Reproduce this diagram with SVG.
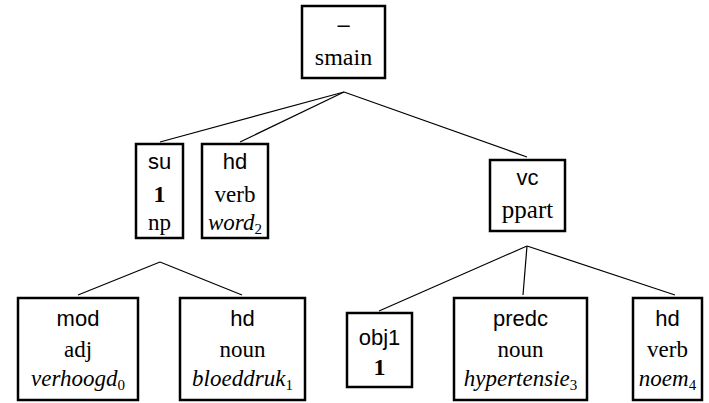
<svg xmlns="http://www.w3.org/2000/svg" width="709" height="403" viewBox="0 0 709 403">
  <style>
    .box { fill: #fff; stroke: #000; stroke-width: 2.5; }
    .edge { stroke: #000; stroke-width: 1.2; fill: none; }
    text { text-anchor: middle; fill: #000; }
    .lbl { font-family: "Liberation Sans", Arial, sans-serif; font-size: 22px; }
    .cat { font-family: "Liberation Serif", "Times New Roman", serif; font-size: 23px; }
    .top { font-family: "Liberation Serif", "Times New Roman", serif; font-size: 24px; }
    .idx { font-family: "Liberation Serif", "Times New Roman", serif; font-size: 24px; font-weight: bold; }
    .word { font-family: "Liberation Serif", "Times New Roman", serif; font-size: 23px; font-style: italic; }
    .sub { font-style: normal; font-size: 15px; }
  </style>

  <g id="connectors">
    <line class="edge" x1="344" y1="92" x2="160" y2="142"/>
    <line class="edge" x1="344" y1="92" x2="240" y2="142"/>
    <line class="edge" x1="344" y1="92" x2="527" y2="157"/>
    <line class="edge" x1="160" y1="262" x2="78" y2="295"/>
    <line class="edge" x1="160" y1="262" x2="242" y2="295"/>
    <line class="edge" x1="527" y1="246" x2="379" y2="311"/>
    <line class="edge" x1="527" y1="246" x2="523" y2="295"/>
    <line class="edge" x1="527" y1="246" x2="675" y2="295"/>
  </g>

  <g id="smain">
    <rect class="box" x="302" y="6" width="83" height="72"/>
    <text class="lbl" x="343.5" y="32">–</text>
    <text class="top" x="343.5" y="65">smain</text>
  </g>

  <g id="su">
    <rect class="box" x="136" y="144" width="47" height="94"/>
    <text class="lbl" x="159.5" y="169">su</text>
    <text class="idx" x="159.5" y="202">1</text>
    <text class="cat" x="159.5" y="230">np</text>
  </g>

  <g id="hd-word">
    <rect class="box" x="202" y="144" width="66" height="94"/>
    <text class="lbl" x="235" y="169">hd</text>
    <text class="cat" x="235" y="202">verb</text>
    <text class="word" x="235" y="230">word<tspan class="sub" dy="4">2</tspan></text>
  </g>

  <g id="vc">
    <rect class="box" x="490" y="160" width="75" height="71"/>
    <text class="lbl" x="527.5" y="185">vc</text>
    <text class="top" x="527.5" y="218" style="font-size:25px">ppart</text>
  </g>

  <g id="mod">
    <rect class="box" x="18" y="298" width="120" height="102"/>
    <text class="lbl" x="78" y="326">mod</text>
    <text class="cat" x="78" y="357">adj</text>
    <text class="word" x="78" y="386">verhoogd<tspan class="sub" dy="4">0</tspan></text>
  </g>

  <g id="hd-bloeddruk">
    <rect class="box" x="180" y="298" width="125" height="102"/>
    <text class="lbl" x="242.5" y="326">hd</text>
    <text class="cat" x="242.5" y="357">noun</text>
    <text class="word" x="242.5" y="386">bloeddruk<tspan class="sub" dy="4">1</tspan></text>
  </g>

  <g id="obj1">
    <rect class="box" x="347" y="313" width="65" height="74"/>
    <text class="lbl" x="379.5" y="345">obj1</text>
    <text class="idx" x="379.5" y="375">1</text>
  </g>

  <g id="predc">
    <rect class="box" x="454" y="298" width="133" height="102"/>
    <text class="lbl" x="520.5" y="326">predc</text>
    <text class="cat" x="520.5" y="357">noun</text>
    <text class="word" x="520.5" y="386">hypertensie<tspan class="sub" dy="4">3</tspan></text>
  </g>

  <g id="hd-noem">
    <rect class="box" x="633" y="298" width="69" height="102"/>
    <text class="lbl" x="667.5" y="326">hd</text>
    <text class="cat" x="667.5" y="357">verb</text>
    <text class="word" x="667.5" y="386">noem<tspan class="sub" dy="4">4</tspan></text>
  </g>
</svg>
